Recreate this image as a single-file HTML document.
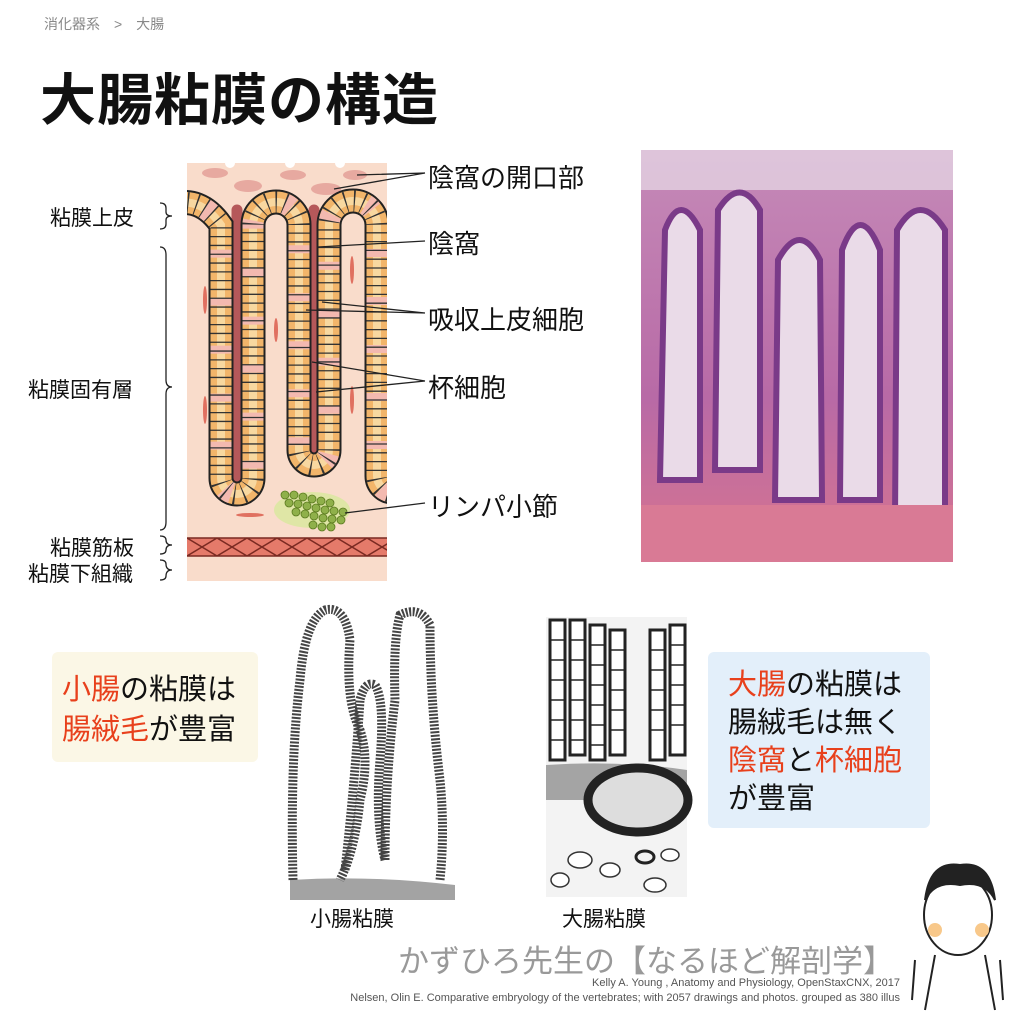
<!DOCTYPE html>
<html><head><meta charset="utf-8"><style>
body{margin:0;width:1024px;height:1024px;background:#fff;position:relative;overflow:hidden;font-family:"Liberation Sans","Noto Sans CJK JP",sans-serif;}
.t{position:absolute;white-space:nowrap;color:#111;}
</style></head><body>
<div class="t" style="left:44px;top:14px;font-size:14px;color:#888">消化器系　&gt;　大腸</div>
<div class="t" style="left:40px;top:56px;font-size:56px;font-weight:bold;letter-spacing:1px">大腸粘膜の構造</div>

<svg style="position:absolute;left:0;top:0" width="1024" height="1024">
<defs>
<clipPath id="blk"><rect x="187" y="163" width="200" height="418"/></clipPath>
<linearGradient id="ph" x1="0" y1="0" x2="0" y2="1"><stop offset="0" stop-color="#c58ab8"/><stop offset="0.6" stop-color="#b86aa6"/><stop offset="1" stop-color="#d7748f"/></linearGradient>
<path id="ep" fill="none" d="M170 205 Q200 195 221 225 L221 478 A16 16 0 0 0 253 478 L253 225 A23 23 0 0 1 299 225 L299 450 A15 15 0 0 0 329 450 L329 225 A24 24 0 0 1 377 225 L377 476 A16 16 0 0 0 409 476"/>
</defs>
<g clip-path="url(#blk)">
<rect x="187" y="163" width="200" height="418" fill="#f9dccb"/>
<circle cx="230" cy="163" r="5" fill="#fff"/><circle cx="290" cy="163" r="5" fill="#fff"/><circle cx="340" cy="163" r="5" fill="#fff"/>
<g fill="#e7a9a0"><ellipse cx="215" cy="173" rx="13" ry="5"/><ellipse cx="293" cy="175" rx="13" ry="5"/><ellipse cx="355" cy="175" rx="12" ry="5"/><ellipse cx="248" cy="186" rx="14" ry="6"/><ellipse cx="326" cy="189" rx="15" ry="6"/></g>
<g stroke="#b5585a" stroke-width="11" stroke-linecap="round"><line x1="237" y1="210" x2="237" y2="480"/><line x1="314" y1="210" x2="314" y2="455"/></g>
<use href="#ep" stroke="#222" stroke-width="25"/>
<use href="#ep" stroke="#f2b56a" stroke-width="21"/>
<use href="#ep" stroke="#f8d8a0" stroke-width="8"/>
<use href="#ep" stroke="#f3b9b0" stroke-width="21" stroke-dasharray="8 40" stroke-dashoffset="12"/>
<use href="#ep" stroke="#333" stroke-width="21" stroke-dasharray="1.3 7.5"/>
<g fill="#e07060"><ellipse cx="205" cy="300" rx="2" ry="14"/><ellipse cx="276" cy="330" rx="2" ry="12"/><ellipse cx="352" cy="270" rx="2" ry="14"/><ellipse cx="205" cy="410" rx="2" ry="14"/><ellipse cx="352" cy="400" rx="2" ry="14"/><ellipse cx="250" cy="515" rx="14" ry="2"/></g>
<rect x="187" y="538" width="200" height="18" fill="#e57a6a"/>
<path d="M187 538 L217 556 L247 538 L277 556 L307 538 L337 556 L367 538 L397 556 M187 556 L217 538 L247 556 L277 538 L307 556 L337 538 L367 556 L397 538 M187 538 H387 M187 556 H387" stroke="#7a2a22" stroke-width="1.5" fill="none"/>
<ellipse cx="312" cy="510" rx="38" ry="18" fill="#dfe6a6"/>
<g fill="#8fb04a" stroke="#5b7a20" stroke-width="0.8">
<circle cx="285" cy="495" r="4"/><circle cx="294" cy="495" r="4"/><circle cx="303" cy="497" r="4"/><circle cx="312" cy="499" r="4"/><circle cx="321" cy="501" r="4"/><circle cx="330" cy="503" r="4"/>
<circle cx="289" cy="503" r="4"/><circle cx="298" cy="504" r="4"/><circle cx="307" cy="506" r="4"/><circle cx="316" cy="508" r="4"/><circle cx="325" cy="510" r="4"/><circle cx="334" cy="511" r="4"/><circle cx="343" cy="512" r="4"/>
<circle cx="296" cy="512" r="4"/><circle cx="305" cy="514" r="4"/><circle cx="314" cy="516" r="4"/><circle cx="323" cy="518" r="4"/><circle cx="332" cy="519" r="4"/><circle cx="341" cy="520" r="4"/>
<circle cx="313" cy="525" r="4"/><circle cx="322" cy="527" r="4"/><circle cx="331" cy="527" r="4"/></g>
</g>
<g stroke="#222" stroke-width="1.3" fill="none">
<path d="M425 173 L357 175 M425 173 L334 189"/>
<path d="M425 241 L318 247"/>
<path d="M425 313 L322 302 M425 313 L306 310"/>
<path d="M425 381 L312 362 M425 381 L316 392"/>
<path d="M425 503 L345 513"/>
<path d="M160 203 Q166 203 166 208 L166 212 Q166 216 172 216 Q166 216 166 220 L166 224 Q166 229 160 229"/>
<path d="M160 247 Q166 247 166 255 L166 380 Q166 387 172 387 Q166 387 166 394 L166 522 Q166 530 160 530"/>
<path d="M160 536 Q166 536 166 540 Q166 545 172 545 Q166 545 166 550 Q166 554 160 554"/>
<path d="M160 560 Q166 560 166 564 Q166 570 172 570 Q166 570 166 576 Q166 580 160 580"/>
</g>
<rect x="641" y="150" width="312" height="412" fill="url(#ph)"/>
<rect x="641" y="150" width="312" height="40" fill="#e8dde8" opacity="0.7"/>
<g fill="#eadbe8" stroke="#7a3a88" stroke-width="6">
<path d="M660 480 L665 230 Q680 190 700 230 L700 480 Z"/>
<path d="M715 470 L718 210 Q740 175 760 210 L760 470 Z"/>
<path d="M775 500 L778 260 Q800 220 820 260 L822 500 Z"/>
<path d="M840 500 L842 250 Q860 200 880 250 L880 500 Z"/>
<path d="M895 520 L897 230 Q920 190 945 230 L945 520 Z"/>
</g>
<rect x="641" y="505" width="312" height="57" fill="#d97a95"/>
<g fill="none" stroke="#444" stroke-width="9" stroke-dasharray="2 1.5">
<path d="M293 880 Q290 760 300 680 Q305 620 325 610 Q345 605 350 640 Q345 700 360 730 Q370 760 360 800 Q355 850 340 880"/>
<path d="M345 870 Q355 780 360 700 Q365 680 375 685 Q385 700 380 760 Q375 820 385 860"/>
<path d="M385 860 Q385 780 395 700 Q393 640 400 615 Q420 605 430 625 Q430 700 440 780 Q445 830 440 880"/>
</g>
<path d="M290 880 Q370 875 455 885 L455 900 L290 900Z" fill="#666" opacity="0.6"/>
<rect x="546" y="617" width="141" height="280" fill="#f3f3f3"/>
<g stroke="#222" stroke-width="3" fill="#fff">
<path d="M550 760 L550 620 L565 620 L565 760 Z"/><path d="M570 755 L570 620 L585 620 L585 755 Z"/><path d="M590 760 L590 625 L605 625 L605 760 Z"/><path d="M610 755 L610 630 L625 630 L625 755Z"/><path d="M650 760 L650 630 L665 630 L665 760Z"/><path d="M670 755 L670 625 L685 625 L685 755Z"/>
</g>
<g stroke="#222" stroke-width="1.5"><path d="M550 640H565M550 660H565M550 680H565M550 700H565M550 720H565M550 740H565M570 640H585M570 660H585M570 680H585M570 700H585M570 720H585M570 740H585M590 645H605M590 665H605M590 685H605M590 705H605M590 725H605M590 745H605M610 650H625M610 670H625M610 690H625M610 710H625M610 730H625M650 650H665M650 670H665M650 690H665M650 710H665M650 730H665M670 645H685M670 665H685M670 685H685M670 705H685M670 725H685"/></g>
<path d="M546 765 Q620 760 687 770 L687 800 L546 800Z" fill="#555" opacity="0.5"/>
<ellipse cx="638" cy="800" rx="50" ry="32" fill="#ddd" stroke="#222" stroke-width="9"/>
<g fill="#fff" stroke="#333" stroke-width="1.5"><ellipse cx="580" cy="860" rx="12" ry="8"/><ellipse cx="610" cy="870" rx="10" ry="7"/><ellipse cx="670" cy="855" rx="9" ry="6"/><ellipse cx="560" cy="880" rx="9" ry="7"/><ellipse cx="655" cy="885" rx="11" ry="7"/></g>
<ellipse cx="645" cy="857" rx="9" ry="6" fill="none" stroke="#222" stroke-width="3"/>
<g stroke="#222" stroke-width="2" fill="#fff">
<ellipse cx="958" cy="915" rx="34" ry="40"/>
<path d="M925 900 Q930 860 960 865 Q990 860 995 900 Q985 880 960 885 Q935 880 925 900Z" fill="#222"/>
<path d="M935 955 L925 1010 M985 955 L995 1010"/>
<path d="M915 960 L912 1000 M1000 960 L1003 1000"/>
</g>
<circle cx="935" cy="930" r="7" fill="#f8c88a"/><circle cx="982" cy="930" r="7" fill="#f8c88a"/>
</svg>

<div class="t" style="left:428px;top:158px;font-size:26px">陰窩の開口部</div>
<div class="t" style="left:428px;top:224px;font-size:26px">陰窩</div>
<div class="t" style="left:428px;top:300px;font-size:26px">吸収上皮細胞</div>
<div class="t" style="left:428px;top:368px;font-size:26px">杯細胞</div>
<div class="t" style="left:428px;top:487px;font-size:26px">リンパ小節</div>
<div class="t" style="left:50px;top:202px;font-size:21px">粘膜上皮</div>
<div class="t" style="left:28px;top:374px;font-size:21px">粘膜固有層</div>
<div class="t" style="left:50px;top:532px;font-size:21px">粘膜筋板</div>
<div class="t" style="left:28px;top:558px;font-size:21px">粘膜下組織</div>

<div style="position:absolute;left:52px;top:652px;width:206px;height:110px;background:#fbf7e6;border-radius:6px"></div>
<div class="t" style="left:62px;top:670px;font-size:29px;line-height:40px"><span style="color:#e8401c">小腸</span>の粘膜は<br><span style="color:#e8401c">腸絨毛</span>が豊富</div>
<div style="position:absolute;left:708px;top:652px;width:222px;height:176px;background:#e3effa;border-radius:6px"></div>
<div class="t" style="left:728px;top:666px;font-size:29px;line-height:38px"><span style="color:#e8401c">大腸</span>の粘膜は<br>腸絨毛は無く<br><span style="color:#e8401c">陰窩</span>と<span style="color:#e8401c">杯細胞</span><br>が豊富</div>
<div class="t" style="left:310px;top:903px;font-size:21px">小腸粘膜</div>
<div class="t" style="left:562px;top:903px;font-size:21px">大腸粘膜</div>
<div class="t" style="left:398px;top:936px;font-size:31px;color:#999">かずひろ先生の【なるほど解剖学】</div>
<div class="t" style="right:124px;top:977px;font-size:11px;color:#555">Kelly A. Young , Anatomy and Physiology, OpenStaxCNX, 2017</div>
<div class="t" style="right:124px;top:992px;font-size:11px;color:#555">Nelsen, Olin E. Comparative embryology of the vertebrates; with 2057 drawings and photos. grouped as 380 illus</div>
</body></html>
